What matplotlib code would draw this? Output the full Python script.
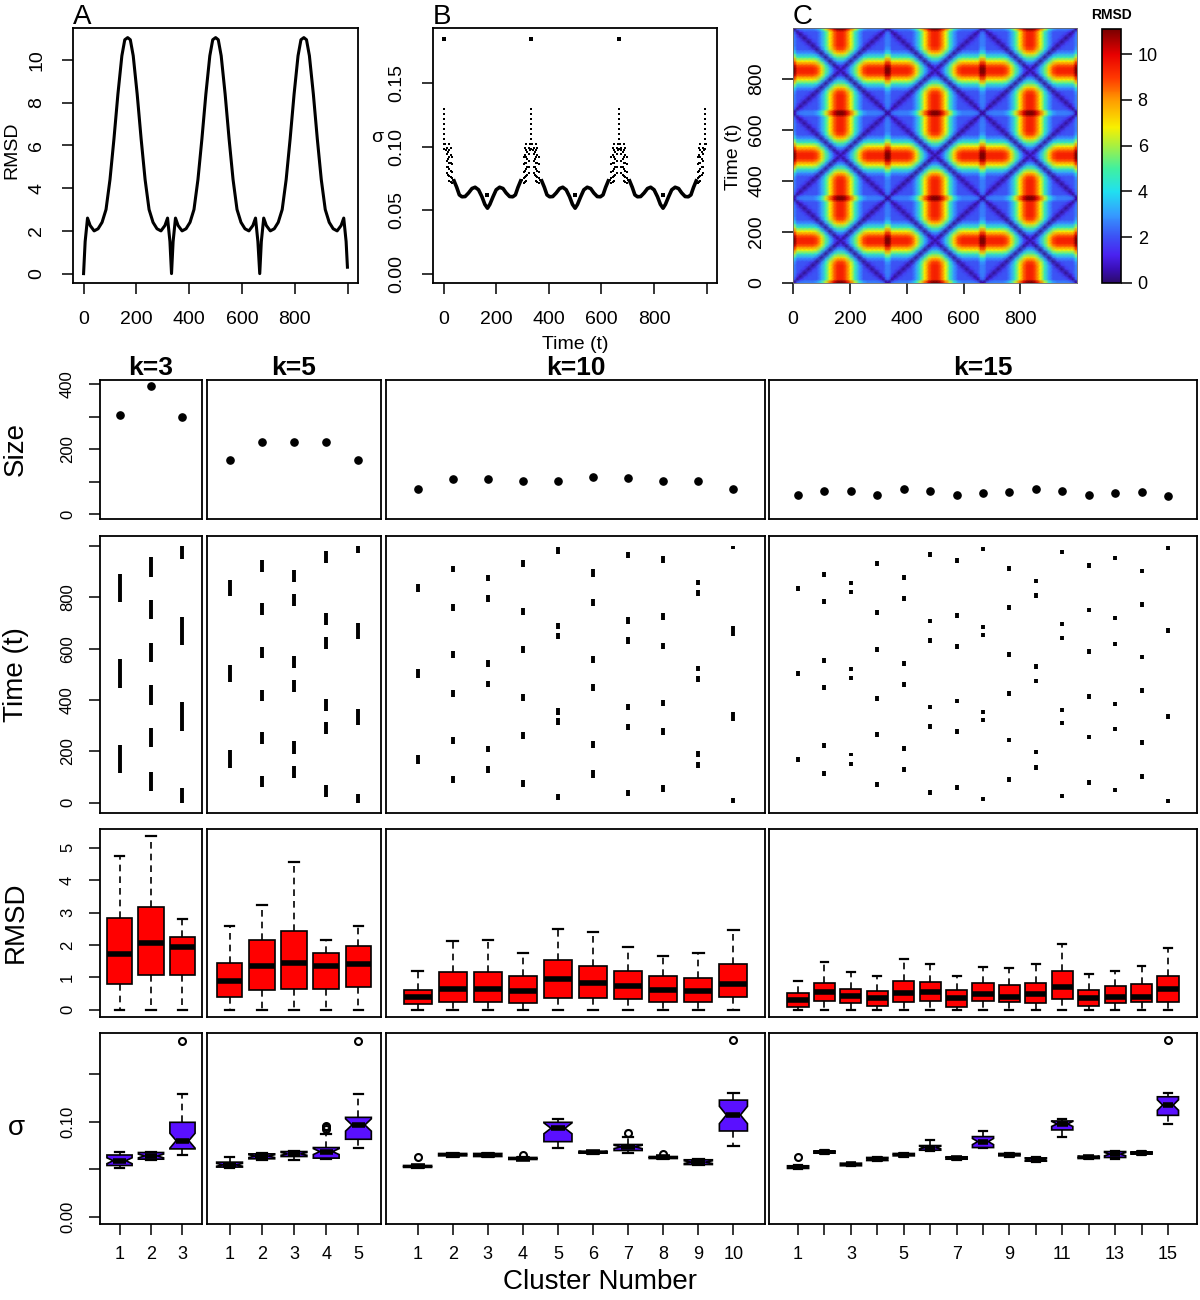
import numpy as np
import matplotlib.pyplot as plt
from matplotlib.colors import LinearSegmentedColormap

plt.rcParams['font.family'] = ['Liberation Sans', 'DejaVu Sans']

W, H = 1200, 1300

# ---------------- panel A: RMSD to frame 0 ----------------
rmsd_t = [0, 6, 15, 25, 40, 55, 70, 85, 100, 115, 130, 145, 156, 167, 177, 188, 203, 218, 233, 248, 263, 278, 293, 308, 318, 327,
          333, 339, 348, 358, 373, 388, 403, 418, 433, 448, 463, 478, 489, 500, 510, 521, 536, 551, 566, 581, 596, 611, 626, 641, 651, 660,
          667, 673, 682, 692, 707, 722, 737, 752, 767, 782, 797, 812, 823, 834, 844, 855, 870, 885, 900, 915, 930, 945, 960, 975, 985, 994,
          999]
rmsd_v = [0, 1.5, 2.6, 2.25, 2.0, 2.1, 2.4, 3.0, 4.4, 6.3, 8.4, 10.2, 10.95, 11.05, 10.95, 10.2, 8.4, 6.3, 4.4, 3.0, 2.4, 2.1, 2.0, 2.25, 2.6, 1.5,
          0, 1.5, 2.6, 2.25, 2.0, 2.1, 2.4, 3.0, 4.4, 6.3, 8.4, 10.2, 10.95, 11.05, 10.95, 10.2, 8.4, 6.3, 4.4, 3.0, 2.4, 2.1, 2.0, 2.25, 2.6, 1.5,
          0, 1.5, 2.6, 2.25, 2.0, 2.1, 2.4, 3.0, 4.4, 6.3, 8.4, 10.2, 10.95, 11.05, 10.95, 10.2, 8.4, 6.3, 4.4, 3.0, 2.4, 2.1, 2.0, 2.25, 2.6, 1.5,
          0.3]

# heat map: RMSD level of the local wiggle near the dips and how it opens up off the diagonal valleys
plateau = 2.0
valley_d = [0, 10, 25]
valley_v = [0.2, 1.3, 2.0]

# ---------------- panel B: sigma per frame ----------------
sigma_curve_t = [
    [40, 50, 60, 70, 82, 95, 108, 120, 133, 146, 157, 167, 176, 188, 200, 213, 226, 238, 251, 263, 273, 283, 293],
    [373, 383, 393, 403, 415, 428, 441, 453, 466, 479, 490, 500, 509, 521, 533, 546, 559, 571, 584, 596, 606, 616, 626],
    [707, 717, 727, 737, 749, 762, 775, 787, 800, 813, 824, 834, 843, 855, 867, 880, 893, 905, 918, 930, 940, 950, 960],
]
sigma_curve_v = [0.073, 0.068, 0.062, 0.0605, 0.0607, 0.0635, 0.067, 0.068, 0.066, 0.0605, 0.0545, 0.0515,
                 0.0545, 0.0605, 0.066, 0.068, 0.067, 0.0635, 0.0607, 0.0605, 0.062, 0.068, 0.073]
# scattered frames around each RMSD dip (offset from dip, sigma)
dip_centers = [3, 333, 667, 995]
dip_dt = [0, 0, 0, 0, 0, 0, 0, 0, 0,
          -3, 3, -6, 6,
          -9, -9, -9, -9, -9, 9, 9, 9, 9, 9,
          -14, -14, -14, -14, 14, 14, 14, 14,
          -19, -19, -19, -19, -19, -19, -19, 19, 19, 19, 19, 19, 19, 19,
          -24, -24, -24, -24, -24, -24, 24, 24, 24, 24, 24, 24,
          -29, -29, -29, -29, -29, 29, 29, 29, 29, 29,
          -34, 34]
dip_sigma = [0.130, 0.126, 0.122, 0.118, 0.114, 0.110, 0.106, 0.102, 0.098,
             0.102, 0.102, 0.097, 0.097,
             0.099, 0.094, 0.089, 0.084, 0.079, 0.099, 0.094, 0.089, 0.084, 0.079,
             0.096, 0.090, 0.084, 0.078, 0.096, 0.090, 0.084, 0.078,
             0.102, 0.097, 0.092, 0.087, 0.082, 0.077, 0.073, 0.102, 0.097, 0.092, 0.087, 0.082, 0.077, 0.073,
             0.099, 0.093, 0.087, 0.081, 0.076, 0.072, 0.099, 0.093, 0.087, 0.081, 0.076, 0.072,
             0.092, 0.086, 0.080, 0.075, 0.071, 0.092, 0.086, 0.080, 0.075, 0.071,
             0.074, 0.074]
sigma_top_t = [0, 333, 667]
sigma_top_v = [0.185, 0.185, 0.185]
sigma_mid_t = [167, 500, 833]
sigma_mid_v = [0.062, 0.062, 0.062]

# ---------------- clustering results ----------------
k_values = [3, 5, 10, 15]

size_k3 = [305, 396, 299]
size_k5 = [167, 222, 222, 222, 167]
size_k10 = [78, 107, 107, 102, 102, 113, 110, 102, 101, 78]
size_k15 = [58, 71, 71, 60, 78, 71, 60, 66, 67, 78, 71, 60, 66, 67, 56]

frames_k3 = [
    [(115, 226), (448, 559), (783, 891)],
    [(47, 121), (217, 291), (382, 457), (548, 624), (715, 791), (879, 957)],
    [(0, 56), (281, 392), (614, 722), (948, 999)],
]
frames_k5 = [
    [(134, 204), (470, 535), (807, 869)],
    [(60, 106), (230, 275), (396, 441), (563, 608), (731, 777), (898, 944)],
    [(98, 145), (191, 239), (432, 480), (526, 572), (768, 813), (859, 907)],
    [(23, 69), (268, 313), (359, 405), (600, 646), (693, 739), (933, 982)],
    [(0, 33), (304, 367), (637, 702), (973, 999)],
]
frames_k10 = [
    [(150, 184), (487, 520), (822, 852)],
    [(78, 104), (230, 256), (413, 439), (565, 591), (748, 774), (898, 924)],
    [(117, 144), (196, 222), (450, 476), (529, 555), (783, 809), (862, 888)],
    [(63, 89), (249, 275), (398, 424), (585, 611), (731, 757), (918, 944)],
    [(10, 34), (304, 330), (343, 369), (637, 663), (676, 702), (970, 996)],
    [(95, 128), (213, 239), (435, 461), (546, 572), (768, 794), (881, 909)],
    [(26, 50), (282, 308), (360, 386), (617, 644), (698, 722), (953, 977)],
    [(43, 69), (265, 291), (376, 402), (598, 624), (713, 738), (933, 960)],
    [(134, 158), (179, 200), (471, 494), (512, 533), (805, 828), (848, 869)],
    [(0, 20), (317, 352), (650, 687), (987, 999)],
]
frames_k15 = [
    [(157, 177), (493, 513), (826, 846)],
    [(104, 124), (212, 232), (439, 459), (545, 565), (773, 793), (880, 900)],
    [(145, 159), (181, 195), (480, 494), (513, 527), (813, 827), (848, 862)],
    [(62, 80), (257, 275), (396, 414), (589, 607), (733, 751), (924, 942)],
    [(118, 138), (200, 220), (452, 472), (533, 553), (786, 806), (867, 887)],
    [(30, 48), (289, 307), (364, 382), (623, 641), (699, 717), (957, 975)],
    [(51, 69), (268, 286), (387, 405), (599, 617), (721, 739), (935, 953)],
    [(8, 24), (314, 330), (344, 360), (646, 662), (675, 691), (982, 998)],
    [(82, 100), (236, 254), (417, 435), (569, 587), (751, 769), (904, 922)],
    [(129, 147), (188, 206), (465, 483), (521, 539), (799, 817), (855, 873)],
    [(19, 35), (303, 319), (354, 370), (634, 650), (688, 704), (970, 986)],
    [(71, 89), (247, 265), (406, 424), (580, 598), (742, 760), (915, 933)],
    [(41, 59), (278, 296), (376, 394), (610, 628), (710, 728), (945, 963)],
    [(93, 111), (225, 243), (428, 446), (559, 577), (763, 781), (893, 911)],
    [(0, 16), (327, 345), (662, 680), (983, 999)],
]

# RMSD boxplot stats per cluster: (whisker low, q1, median, q3, whisker high)
rmsd_k3 = [(0, 0.79, 1.71, 2.83, 4.76), (0, 1.09, 2.05, 3.16, 5.36), (0, 1.09, 1.95, 2.24, 2.80)]
rmsd_k5 = [(0, 0.41, 0.88, 1.45, 2.59), (0, 0.62, 1.35, 2.17, 3.24), (0, 0.65, 1.45, 2.43, 4.55),
           (0, 0.65, 1.35, 1.74, 2.15), (0, 0.70, 1.40, 1.98, 2.59)]
rmsd_k10 = [(0, 0.19, 0.41, 0.62, 1.20), (0, 0.24, 0.65, 1.16, 2.13), (0, 0.24, 0.65, 1.16, 2.17),
            (0, 0.22, 0.59, 1.05, 1.76), (0, 0.38, 0.94, 1.54, 2.51), (0, 0.38, 0.82, 1.35, 2.41),
            (0, 0.32, 0.75, 1.21, 1.94), (0, 0.23, 0.61, 1.06, 1.66), (0, 0.23, 0.57, 0.99, 1.76),
            (0, 0.39, 0.80, 1.41, 2.45)]
rmsd_k15 = [(0, 0.08, 0.31, 0.51, 0.90), (0, 0.26, 0.54, 0.82, 1.48), (0, 0.21, 0.43, 0.65, 1.17),
            (0, 0.11, 0.36, 0.59, 1.04), (0, 0.24, 0.52, 0.90, 1.56), (0, 0.26, 0.56, 0.85, 1.43),
            (0, 0.10, 0.36, 0.60, 1.06), (0, 0.26, 0.50, 0.84, 1.33), (0, 0.23, 0.39, 0.78, 1.28),
            (0, 0.21, 0.48, 0.83, 1.43), (0, 0.34, 0.72, 1.19, 2.02), (0, 0.12, 0.37, 0.61, 1.10),
            (0, 0.22, 0.40, 0.75, 1.20), (0, 0.24, 0.40, 0.81, 1.35), (0, 0.24, 0.65, 1.04, 1.92)]

# sigma boxplot stats per cluster and outliers
sigma_k3 = [(0.051, 0.054, 0.059, 0.065, 0.068), (0.060, 0.0606, 0.064, 0.0676, 0.068),
            (0.0645, 0.0714, 0.080, 0.0993, 0.129)]
sigma_k5 = [(0.0512, 0.0523, 0.0547, 0.0575, 0.0627), (0.060, 0.061, 0.0638, 0.0662, 0.0676),
            (0.060, 0.0634, 0.0662, 0.0686, 0.0697), (0.061, 0.0617, 0.0686, 0.0728, 0.0868),
            (0.0721, 0.0815, 0.0965, 0.1045, 0.129)]
sigma_k10 = [(0.0512, 0.052, 0.053, 0.054, 0.055), (0.0634, 0.0641, 0.0655, 0.0666, 0.0672),
             (0.0624, 0.0634, 0.065, 0.0666, 0.0676), (0.0596, 0.0603, 0.0613, 0.0624, 0.0634),
             (0.0721, 0.079, 0.093, 0.0993, 0.1024), (0.0662, 0.0669, 0.068, 0.069, 0.0697),
             (0.0669, 0.0697, 0.0735, 0.076, 0.0836), (0.0606, 0.0613, 0.0624, 0.0634, 0.0638),
             (0.0540, 0.055, 0.0575, 0.060, 0.0606), (0.0746, 0.0902, 0.107, 0.1226, 0.1296)]
sigma_k15 = [(0.0498, 0.0509, 0.0526, 0.0537, 0.0547), (0.0662, 0.0669, 0.0683, 0.0693, 0.070),
             (0.053, 0.0537, 0.0551, 0.0564, 0.057), (0.0585, 0.0592, 0.0606, 0.0624, 0.0634),
             (0.0634, 0.0641, 0.0655, 0.0666, 0.0672), (0.0697, 0.070, 0.0728, 0.0749, 0.0808),
             (0.060, 0.0606, 0.062, 0.0631, 0.0634), (0.0721, 0.0728, 0.0791, 0.0843, 0.0906),
             (0.0634, 0.0641, 0.0655, 0.0666, 0.0672), (0.0575, 0.0585, 0.0603, 0.062, 0.0627),
             (0.0836, 0.0913, 0.0976, 0.1007, 0.1024), (0.0606, 0.0613, 0.0627, 0.0638, 0.0641),
             (0.0613, 0.0624, 0.0659, 0.0686, 0.0697), (0.0652, 0.0659, 0.0672, 0.0683, 0.069),
             (0.0972, 0.1066, 0.1174, 0.1261, 0.1296)]
sigma_fliers_k3 = [[], [], [0.185]]
sigma_fliers_k5 = [[], [], [], [0.0955, 0.094, 0.092], [0.185]]
sigma_fliers_k10 = [[0.0634], [], [], [0.0645], [], [], [0.0878], [0.0662], [], [0.1854]]
sigma_fliers_k15 = [[0.0627], [], [], [], [], [], [], [], [], [], [], [], [], [], [0.1854]]

size_all = [size_k3, size_k5, size_k10, size_k15]
frames_all = [frames_k3, frames_k5, frames_k10, frames_k15]
rmsd_all = [rmsd_k3, rmsd_k5, rmsd_k10, rmsd_k15]
sigma_all = [sigma_k3, sigma_k5, sigma_k10, sigma_k15]
fliers_all = [sigma_fliers_k3, sigma_fliers_k5, sigma_fliers_k10, sigma_fliers_k15]

# ---------------- layout (pixels) ----------------
COLS = [(100, 202), (207, 381), (386, 765), (769, 1197)]
ROWS = [(380, 519), (536, 813), (829, 1017), (1033, 1224)]
NOTCH = 0.28

fig = plt.figure(figsize=(12, 13), dpi=100)


def add_ax(l, t, r, b):
    return fig.add_axes([l / W, 1 - b / H, (r - l) / W, (b - t) / H])


def fig_text(x, y, s, **kw):
    fig.text(x / W, 1 - y / H, s, ha='center', va='center', **kw)


def style(ax, size=14, pad=12):
    for sp in ax.spines.values():
        sp.set_linewidth(1.3)
    ax.tick_params(direction='out', length=8, width=1.1, labelsize=size, pad=pad)


def rot_y(ax):
    for lab in ax.get_yticklabels():
        lab.set_rotation(90)
        lab.set_va('center')


# ---- A ----
axA = add_ax(73, 28, 358, 283)
axA.plot(rmsd_t, rmsd_v, color='black', lw=2.2)
axA.set_xlim(-40, 1039)
axA.set_ylim(-0.44, 11.5)
axA.set_xticks([0, 200, 400, 600, 800, 1000], ['0', '200', '400', '600', '800', ''])
axA.set_yticks([0, 2, 4, 6, 8, 10])
style(axA)
rot_y(axA)
fig_text(12, 150, 'RMSD', fontsize=14, rotation=90)
fig.text(73 / W, 1 - 24 / H, 'A', fontsize=20, ha='left', va='baseline')

# ---- B ----
axB = add_ax(433, 28, 717, 283)
for ct in sigma_curve_t:
    axB.plot(ct, sigma_curve_v, color='black', lw=2.6, solid_joinstyle='round')
dip_t, dip_v = [], []
for c in dip_centers:
    for dt, sv in zip(dip_dt, dip_sigma):
        if 0 <= c + dt <= 999:
            dip_t.append(c + dt)
            dip_v.append(sv)
axB.plot(dip_t, dip_v, 's', color='black', ms=1.7, mew=0)
axB.plot(sigma_top_t, sigma_top_v, 's', color='black', ms=2.2, mew=0)
axB.plot(sigma_mid_t, sigma_mid_v, 's', color='black', ms=2.2, mew=0)
axB.set_xlim(-40, 1039)
axB.set_ylim(-0.0074, 0.1934)
axB.set_xticks([0, 200, 400, 600, 800, 1000], ['0', '200', '400', '600', '800', ''])
axB.set_yticks([0, 0.05, 0.10, 0.15], ['0.00', '0.05', '0.10', '0.15'])
style(axB)
rot_y(axB)
fig_text(377, 137, 'σ', fontsize=14)
fig_text(575, 345, 'Time (t)', fontsize=14)
fig.text(433 / W, 1 - 24 / H, 'B', fontsize=20, ha='left', va='baseline')

# ---- C: pairwise RMSD map built from the panel A profile ----
tA = np.array(rmsd_t, dtype=float)
vA = np.array(rmsd_v, dtype=float)
per = 1000 / 3
ph = np.mod(tA, per)
ph = np.minimum(ph, per - ph)
big = np.sqrt(np.clip(vA ** 2 - plateau ** 2, 0, None))
order = np.argsort(ph, kind='stable')
env = np.empty_like(big)
env[order] = np.maximum.accumulate(big[order])
wig = np.interp(np.abs(ph[:, None] - ph[None, :]), valley_d, valley_v)
M = np.sqrt((env[:, None] - env[None, :]) ** 2 + wig ** 2)
cmap = LinearSegmentedColormap.from_list('rmsd', [
    (0.0, '#2c0b6b'), (0.6 / 11.1, '#3a0fb8'), (1.2 / 11.1, '#4a22f0'), (2.0 / 11.1, '#3c52f5'),
    (3.0 / 11.1, '#359cff'), (4.0 / 11.1, '#20e0f0'), (5.0 / 11.1, '#40f0a0'), (6.0 / 11.1, '#a8f040'),
    (6.8 / 11.1, '#f8f000'), (8.0 / 11.1, '#ff9a00'), (9.0 / 11.1, '#ff3800'), (10.0 / 11.1, '#e80000'),
    (1.0, '#7a0000')])
axC = add_ax(793, 28, 1077, 283)
mesh = axC.pcolormesh(tA, tA, M, cmap=cmap, vmin=0, vmax=11.1, shading='gouraud')
axC.set_xlim(0, 999)
axC.set_ylim(0, 999)
axC.set_xticks([0, 200, 400, 600, 800])
axC.set_yticks([0, 200, 400, 600, 800])
style(axC)
for sp in axC.spines.values():
    sp.set_linewidth(0.6)
    sp.set_color('#666666')
rot_y(axC)
fig_text(733, 157, 'Time (t)', fontsize=14, rotation=90)
fig.text(793 / W, 1 - 24 / H, 'C', fontsize=20, ha='left', va='baseline')
cax = add_ax(1102, 29, 1121, 283)
cb = fig.colorbar(mesh, cax=cax, ticks=[0, 2, 4, 6, 8, 10])
cb.outline.set_linewidth(1.2)
cax.tick_params(labelsize=13, length=8, width=1.1, pad=4)
fig_text(1111, 15, 'RMSD', fontsize=10, fontweight='bold')

# ---- cluster panels ----
box_common = dict(widths=0.8, patch_artist=True, manage_ticks=False, capwidths=0.3,
                  whiskerprops=dict(color='black', lw=1.2, linestyle=(0, (4, 3))),
                  capprops=dict(color='black', lw=1.6),
                  flierprops=dict(marker='o', mfc='none', mec='black', ms=5, mew=1.5))

for j, k in enumerate(k_values):
    l, r = COLS[j]
    xlim = (0.5 - 0.04 * k, k + 0.5 + 0.04 * k)
    pos = list(range(1, k + 1))
    axes = [add_ax(l, t, r, b) for (t, b) in ROWS]
    for ax in axes:
        ax.set_xlim(*xlim)
        style(ax, size=12, pad=10)
        ax.set_xticks([])
    a_size, a_time, a_rmsd, a_sig = axes

    a_size.plot(pos, size_all[j], 'o', color='black', ms=5.2)
    a_size.set_ylim(-15, 413)

    for x, segs in zip(pos, frames_all[j]):
        a_time.vlines([x] * len(segs), [s[0] for s in segs], [s[1] for s in segs], color='black', lw=2.8)
    a_time.set_ylim(-40, 1039)

    st = [dict(whislo=lo, q1=q1, med=md, q3=q3, whishi=hi, fliers=[]) for lo, q1, md, q3, hi in rmsd_all[j]]
    a_rmsd.bxp(st, positions=pos, boxprops=dict(facecolor='#ff0000', edgecolor='black', lw=1.2),
               medianprops=dict(color='black', lw=4), **box_common)
    a_rmsd.set_ylim(-0.22, 5.58)

    st = []
    for (lo, q1, md, q3, hi), fl in zip(sigma_all[j], fliers_all[j]):
        st.append(dict(whislo=lo, q1=q1, med=md, q3=q3, whishi=hi, fliers=fl,
                       cilo=md - NOTCH * (q3 - q1), cihi=md + NOTCH * (q3 - q1)))
    a_sig.bxp(st, positions=pos, shownotches=True,
              boxprops=dict(facecolor='#5a10ff', edgecolor='black', lw=1.2),
              medianprops=dict(color='black', lw=4), **box_common)
    a_sig.set_ylim(-0.0074, 0.193)
    a_sig.set_xticks(pos, [str(p) if (k < 15 or p % 2 == 1) else '' for p in pos])
    a_sig.tick_params(axis='x', labelsize=13, pad=8)

    if j == 0:
        a_size.set_yticks([0, 100, 200, 300, 400], ['0', '', '200', '', '400'])
        a_time.set_yticks([0, 200, 400, 600, 800, 1000], ['0', '200', '400', '600', '800', ''])
        a_rmsd.set_yticks([0, 1, 2, 3, 4, 5])
        a_sig.set_yticks([0, 0.05, 0.10, 0.15], ['0.00', '', '0.10', ''])
        for ax in axes:
            rot_y(ax)
    else:
        for ax in axes:
            ax.set_yticks([])

    fig_text((l + r) / 2, 368, 'k=%d' % k, fontsize=19, fontweight='bold',
             family=['Liberation Sans Narrow', 'Liberation Sans'])

fig_text(16, 449, 'Size', fontsize=20, rotation=90)
fig_text(16, 675, 'Time (t)', fontsize=20, rotation=90)
fig_text(16, 922, 'RMSD', fontsize=20, rotation=90)
fig_text(16, 1128, 'σ', fontsize=20)
fig_text(600, 1282, 'Cluster Number', fontsize=20)

fig.savefig('out.png', dpi=100)
